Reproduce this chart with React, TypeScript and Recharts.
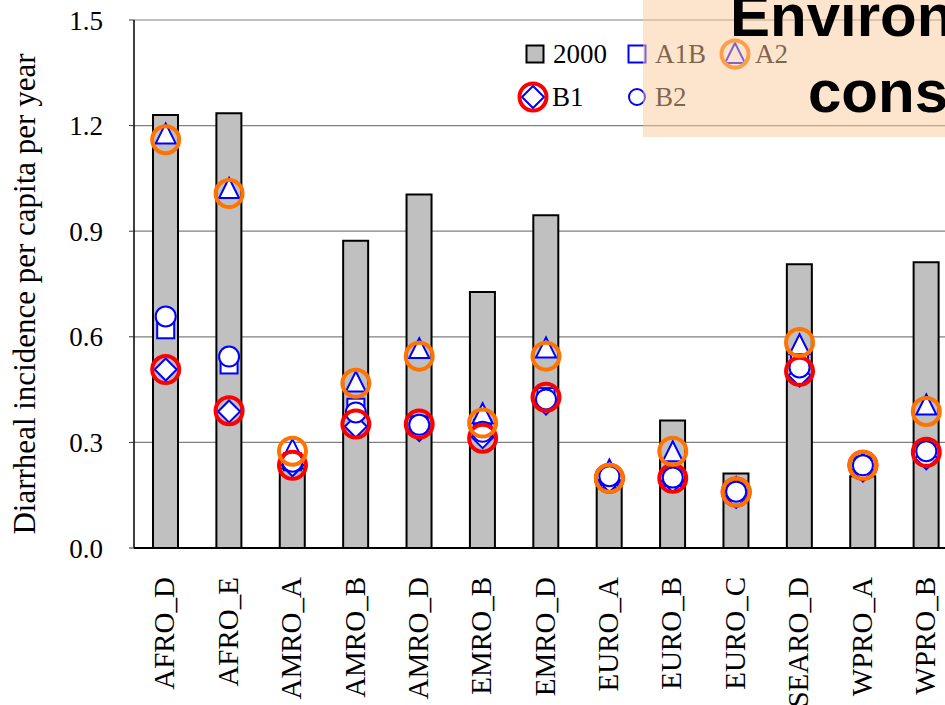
import React from "react";
import {
  ComposedChart,
  Bar,
  Line,
  XAxis,
  YAxis,
  CartesianGrid,
  Legend,
  Label,
} from "recharts";

// WHO sub-regions
const REGIONS = [
  "AFRO_D", "AFRO_E", "AMRO_A", "AMRO_B", "AMRO_D", "EMRO_B", "EMRO_D",
  "EURO_A", "EURO_B", "EURO_C", "SEARO_D", "WPRO_A", "WPRO_B",
];

// baseline year
const BASE_2000 = [1.23, 1.235, 0.226, 0.873, 1.004, 0.727, 0.945, 0.191, 0.362, 0.212, 0.806, 0.204, 0.812];

// scenario projections
const A1B = [0.62, 0.52, 0.245, 0.4, 0.35, 0.34, 0.43, 0.195, 0.2, 0.16, 0.53, 0.235, 0.275];
const A2 = [1.175, 1.02, 0.278, 0.47, 0.565, 0.38, 0.567, 0.22, 0.272, 0.17, 0.576, 0.24, 0.405];
const B1 = [0.507, 0.388, 0.235, 0.345, 0.335, 0.315, 0.41, 0.19, 0.19, 0.145, 0.49, 0.22, 0.255];
const B2 = [0.658, 0.544, 0.245, 0.385, 0.35, 0.33, 0.422, 0.204, 0.2, 0.16, 0.513, 0.235, 0.275];

// highlight rings drawn around the A2 and B1 points
const A2_RING = [1.16, 1.007, 0.275, 0.468, 0.545, 0.355, 0.545, 0.198, 0.275, 0.159, 0.584, 0.235, 0.388];
const B1_RING = [0.507, 0.39, 0.235, 0.352, 0.352, 0.312, 0.428, 0.198, 0.198, 0.159, 0.502, 0.235, 0.272];

const Y_TICKS = [0, 0.3, 0.6, 0.9, 1.2, 1.5];

const SERIF = "'Liberation Serif', 'Times New Roman', serif";
const SANS = "'Liberation Sans', Arial, sans-serif";
const BLUE = "#0000FF";
const ORANGE = "#FF7300";
const RED = "#FF0000";

const chartData = REGIONS.map((region, i) => ({
  region,
  y2000: BASE_2000[i],
  a1b: A1B[i],
  a2: A2[i],
  b1: B1[i],
  b2: B2[i],
  a2Ring: A2_RING[i],
  b1Ring: B1_RING[i],
}));

// marker glyphs, shared by the series and the legend
const square = (cx: number, cy: number, key?: string) => (
  <rect key={key} x={cx - 8.5} y={cy - 8.5} width={17} height={17} fill="#fff" stroke={BLUE} strokeWidth={2} />
);
const triangle = (cx: number, cy: number, key?: string) => (
  <polygon
    key={key}
    points={`${cx},${cy - 11} ${cx + 10},${cy + 9} ${cx - 10},${cy + 9}`}
    fill="#fff"
    stroke={BLUE}
    strokeWidth={2}
  />
);
const diamond = (cx: number, cy: number, key?: string) => (
  <polygon
    key={key}
    points={`${cx},${cy - 11} ${cx + 11},${cy} ${cx},${cy + 11} ${cx - 11},${cy}`}
    fill="#fff"
    stroke={BLUE}
    strokeWidth={2}
  />
);
const circle = (cx: number, cy: number, key?: string, r = 10) => (
  <circle key={key} cx={cx} cy={cy} r={r} fill="#fff" stroke={BLUE} strokeWidth={2} />
);
const ring = (cx: number, cy: number, color: string, key?: string) => (
  <circle key={key} cx={cx} cy={cy} r={13.5} fill="none" stroke={color} strokeWidth={4} />
);

const RegionTick = ({ x, y, payload }: any) => (
  <text
    x={x}
    y={y}
    transform={`rotate(-90 ${x} ${y})`}
    textAnchor="end"
    dy="0.3em"
    fontSize={29}
    fontFamily={SERIF}
    fill="#000"
  >
    {payload.value}
  </text>
);

const YTitle = ({ viewBox }: any) => {
  const x = viewBox.x + 35;
  const y = viewBox.y + viewBox.height / 2 + 10;
  return (
    <text x={x} y={y} transform={`rotate(-90 ${x} ${y})`} textAnchor="middle" fontSize={31} fontFamily={SERIF} fill="#000">
      Diarrheal incidence per capita per year
    </text>
  );
};

const legendText = (x: number, y: number, label: string) => (
  <text x={x} y={y + 9} fontSize={27} fontFamily={SERIF} fill="#000">
    {label}
  </text>
);

const renderLegend = () => (
  <svg width={290} height={90}>
    <rect x={11.5} y={15.5} width={17} height={17} fill="#C0C0C0" stroke="#000" strokeWidth={2} />
    {legendText(38, 24, "2000")}
    {square(122, 24)}
    {legendText(140, 24, "A1B")}
    {triangle(220, 24)}
    {ring(220, 24, ORANGE)}
    {legendText(240, 24, "A2")}
    {diamond(18, 67)}
    {ring(18, 67, RED)}
    {legendText(37, 67, "B1")}
    {circle(122, 67, undefined, 8)}
    {legendText(140, 67, "B2")}
  </svg>
);

export default function App() {
  return (
    <div
      style={{
        position: "absolute",
        left: 0,
        top: 0,
        width: 945,
        height: 705,
        overflow: "hidden",
        background: "#fff",
      }}
    >
      <ComposedChart
        width={960}
        height={705}
        data={chartData}
        margin={{ top: 20, right: 2, left: 0, bottom: 0 }}
      >
        <CartesianGrid horizontal vertical={false} stroke="#808080" strokeWidth={1.2} />
        <XAxis
          dataKey="region"
          height={157}
          interval={0}
          tick={<RegionTick />}
          tickLine={false}
          tickSize={0}
          tickMargin={29}
          axisLine={{ stroke: "#000", strokeWidth: 2 }}
        />
        <YAxis
          width={134}
          domain={[0, 1.5]}
          ticks={Y_TICKS}
          interval={0}
          tickFormatter={(v: number) => v.toFixed(1)}
          tick={{ fill: "#000", fontSize: 27, fontFamily: SERIF }}
          tickSize={5}
          tickMargin={26}
          tickLine={{ stroke: "#333" }}
          axisLine={{ stroke: "#000", strokeWidth: 1.5 }}
        >
          <Label content={<YTitle />} />
        </YAxis>
        <Legend
          layout="horizontal"
          verticalAlign="middle"
          align="center"
          content={renderLegend}
          wrapperStyle={{ left: 515, top: 30, width: 290, height: 90 }}
        />
        <Bar dataKey="y2000" name="2000" fill="#C0C0C0" stroke="#000" strokeWidth={2} barSize={25} isAnimationActive={false} />
        <Line dataKey="a1b" name="A1B" stroke="none" activeDot={false} isAnimationActive={false}
          dot={(p: any) => square(p.cx, p.cy, `a1b-${p.index}`)} />
        <Line dataKey="a2" name="A2" stroke="none" activeDot={false} isAnimationActive={false}
          dot={(p: any) => triangle(p.cx, p.cy, `a2-${p.index}`)} />
        <Line dataKey="b1" name="B1" stroke="none" activeDot={false} isAnimationActive={false}
          dot={(p: any) => diamond(p.cx, p.cy, `b1-${p.index}`)} />
        <Line dataKey="b2" name="B2" stroke="none" activeDot={false} isAnimationActive={false}
          dot={(p: any) => circle(p.cx, p.cy, `b2-${p.index}`)} />
        <Line dataKey="b1Ring" stroke="none" activeDot={false} isAnimationActive={false} legendType="none"
          dot={(p: any) => ring(p.cx, p.cy, RED, `b1r-${p.index}`)} />
        <Line dataKey="a2Ring" stroke="none" activeDot={false} isAnimationActive={false} legendType="none"
          dot={(p: any) => ring(p.cx, p.cy, ORANGE, `a2r-${p.index}`)} />
      </ComposedChart>

      {/* title banner laid over the top-right corner */}
      <svg width={302} height={137} style={{ position: "absolute", left: 643, top: 0 }}>
        <rect x={0} y={0} width={302} height={137} fill="rgba(251, 201, 155, 0.5)" />
        <text x={87} y={36} fontFamily={SANS} fontWeight="bold" fontSize={60} fill="#000">
          Environmental
        </text>
        <text x={165} y={112} fontFamily={SANS} fontWeight="bold" fontSize={60} fill="#000">
          consequences
        </text>
      </svg>
    </div>
  );
}
